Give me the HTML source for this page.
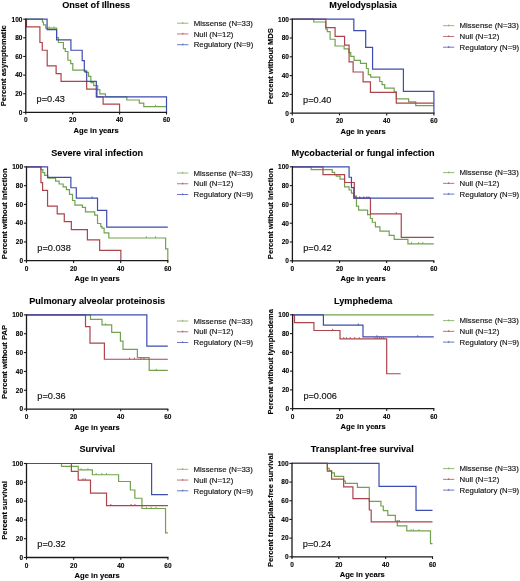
<!DOCTYPE html>
<html><head><meta charset="utf-8"><style>
html,body{margin:0;padding:0;background:#fff;}
svg{display:block;will-change:transform;}
text{font-family:"Liberation Sans",sans-serif;}
.c{fill:none;stroke-width:1.2;}
.ax{fill:none;stroke:#1a1a1a;stroke-width:1.3;}
.tk{fill:none;stroke:#1a1a1a;stroke-width:1.1;}
.tl{font-size:7.4px;font-weight:bold;fill:#000;stroke:#000;stroke-width:.12px;}
.ti{font-size:9.15px;font-weight:bold;fill:#000;stroke:#000;stroke-width:.1px;}
.xl{font-size:7.6px;font-weight:bold;fill:#000;stroke:#000;stroke-width:.12px;}
.yl{font-size:7.6px;font-weight:bold;fill:#000;stroke:#000;stroke-width:.12px;}
.pv{font-size:9.2px;fill:#111;stroke:#111;stroke-width:.15px;}
.ck{fill:none;stroke-width:.9;}
.lg{fill:none;stroke-width:1;opacity:.75;}
.lt{font-size:7.8px;fill:#111;stroke:#111;stroke-width:.15px;}
</style></head><body>
<svg width="520" height="581" viewBox="0 0 520 581">
<path d="M25.8 19.2H42.48V22H43.42V24.89H45.78V28.06H56.59V37.58H58.47V42.52H63.4V48.68H65.28V51.48H67.86V60.25H70.69V63.7H72.8V70.05H85.02V72.38H88.55V76.3H90.89V82.64H93.72V85.63H97.71V89.64H99.83V93.84H105.47V96.92H126.85V100H139.31V103.08H143.77V106.53H166.5" stroke="#72a24e" class="c"/>
<path d="M25.8 19.2H26.5V26.94H39.9V42.52H42.25V50.27H47.19V65.85H56.12V73.59H61.05V81.43H86.67V89.17H97V96.92H103.11V104.2H119.56V112.4H119.56" stroke="#ac444c" class="c"/>
<path d="M25.8 19.2H47.09V29.56H56.59V39.91H70.92V50.27H82.2V60.63H84.31V71.07H86.67V81.43H96.3V96.92H166.5V112.4H166.5" stroke="#3c4cb0" class="c"/>
<path d="M49.3 26.36V28.06M54 26.36V28.06" stroke="#72a24e" class="ck"/>
<path d="M155.52 104.83V106.53" stroke="#72a24e" class="ck"/>
<path d="M25.8 18.6V112.4H167.1" class="ax"/>
<path d="M23.2 112.4H25.8" class="tk"/>
<text transform="translate(22.4 114.7) scale(.88 1)" class="tl" text-anchor="end">0</text>
<path d="M23.2 93.76H25.8" class="tk"/>
<text transform="translate(22.4 96.06) scale(.88 1)" class="tl" text-anchor="end">20</text>
<path d="M23.2 75.12H25.8" class="tk"/>
<text transform="translate(22.4 77.42) scale(.88 1)" class="tl" text-anchor="end">40</text>
<path d="M23.2 56.48H25.8" class="tk"/>
<text transform="translate(22.4 58.78) scale(.88 1)" class="tl" text-anchor="end">60</text>
<path d="M23.2 37.84H25.8" class="tk"/>
<text transform="translate(22.4 40.14) scale(.88 1)" class="tl" text-anchor="end">80</text>
<path d="M23.2 19.2H25.8" class="tk"/>
<text transform="translate(22.4 21.5) scale(.88 1)" class="tl" text-anchor="end">100</text>
<path d="M25.8 112.4V114.6" class="tk"/>
<text transform="translate(25.8 122.4) scale(.88 1)" class="tl" text-anchor="middle">0</text>
<path d="M72.7 112.4V114.6" class="tk"/>
<text transform="translate(72.7 122.4) scale(.88 1)" class="tl" text-anchor="middle">20</text>
<path d="M119.6 112.4V114.6" class="tk"/>
<text transform="translate(119.6 122.4) scale(.88 1)" class="tl" text-anchor="middle">40</text>
<path d="M166.5 112.4V114.6" class="tk"/>
<text transform="translate(166.5 122.4) scale(.88 1)" class="tl" text-anchor="middle">60</text>
<text x="96.15" y="7.9" class="ti" text-anchor="middle">Onset of Illness</text>
<text x="96.15" y="133" class="xl" text-anchor="middle">Age in years</text>
<text transform="translate(6.4 65.8) rotate(-90)" class="yl" text-anchor="middle">Percent asymptomatic</text>
<text x="36.6" y="102.3" class="pv">p=0.43</text>
<path d="M177.1 23.2H188.4M182.8 22V23.8" stroke="#72a24e" class="lg"/>
<text x="193.7" y="25.9" class="lt">Missense (N=33)</text>
<path d="M177.1 33.95H188.4M182.8 32.75V34.55" stroke="#ac444c" class="lg"/>
<text x="193.7" y="36.65" class="lt">Null (N=12)</text>
<path d="M177.1 44.7H188.4M182.8 43.5V45.3" stroke="#3c4cb0" class="lg"/>
<text x="193.7" y="47.4" class="lt">Regulatory (N=9)</text>
<path d="M292.3 19.2H313.75V22.02H325.85V29.08H327.27V31.53H330.11V39.24H335.1V46.02H344.11V48.84H348.85V52.7H350.75V56.46H354.07V60.42H360.48V63.43H366.41V68.51H368.3V74.62H370.68V77.17H379.69V81.49H382.06V84.6H384.67V88.08H394.16V91.94H396.29V98.81H408.63V101.91H415.74V105.68H433.9" stroke="#72a24e" class="c"/>
<path d="M292.3 19.2H325.85V27.67H335.1V36.33H344.58V45.17H349.09V61.83H353.12V71.99H363.09V81.96H370.44V92.41H396.29V103.14H433.9" stroke="#ac444c" class="c"/>
<path d="M292.3 19.2H353.83V30.59H365.69V47.43H372.57V69.07H403.41V91.37H433.9V113.2H433.9" stroke="#3c4cb0" class="c"/>
<path d="M292.3 18.6V113.2H434.5" class="ax"/>
<path d="M289.7 113.2H292.3" class="tk"/>
<text transform="translate(288.9 115.5) scale(.88 1)" class="tl" text-anchor="end">0</text>
<path d="M289.7 94.4H292.3" class="tk"/>
<text transform="translate(288.9 96.7) scale(.88 1)" class="tl" text-anchor="end">20</text>
<path d="M289.7 75.6H292.3" class="tk"/>
<text transform="translate(288.9 77.9) scale(.88 1)" class="tl" text-anchor="end">40</text>
<path d="M289.7 56.8H292.3" class="tk"/>
<text transform="translate(288.9 59.1) scale(.88 1)" class="tl" text-anchor="end">60</text>
<path d="M289.7 38H292.3" class="tk"/>
<text transform="translate(288.9 40.3) scale(.88 1)" class="tl" text-anchor="end">80</text>
<path d="M289.7 19.2H292.3" class="tk"/>
<text transform="translate(288.9 21.5) scale(.88 1)" class="tl" text-anchor="end">100</text>
<path d="M292.3 113.2V115.4" class="tk"/>
<text transform="translate(292.3 123.2) scale(.88 1)" class="tl" text-anchor="middle">0</text>
<path d="M339.5 113.2V115.4" class="tk"/>
<text transform="translate(339.5 123.2) scale(.88 1)" class="tl" text-anchor="middle">20</text>
<path d="M386.7 113.2V115.4" class="tk"/>
<text transform="translate(386.7 123.2) scale(.88 1)" class="tl" text-anchor="middle">40</text>
<path d="M433.9 113.2V115.4" class="tk"/>
<text transform="translate(433.9 123.2) scale(.88 1)" class="tl" text-anchor="middle">60</text>
<text x="363.1" y="7.9" class="ti" text-anchor="middle">Myelodysplasia</text>
<text x="363.1" y="133.8" class="xl" text-anchor="middle">Age in years</text>
<text transform="translate(272.9 66.2) rotate(-90)" class="yl" text-anchor="middle">Percent without MDS</text>
<text x="303.1" y="103.1" class="pv">p=0.40</text>
<path d="M443 25.7H454.3M448.7 24.5V26.3" stroke="#72a24e" class="lg"/>
<text x="459.6" y="28.4" class="lt">Missense (N=33)</text>
<path d="M443 36.45H454.3M448.7 35.25V37.05" stroke="#ac444c" class="lg"/>
<text x="459.6" y="39.15" class="lt">Null (N=12)</text>
<path d="M443 47.2H454.3M448.7 46V47.8" stroke="#3c4cb0" class="lg"/>
<text x="459.6" y="49.9" class="lt">Regulatory (N=9)</text>
<path d="M26.5 166.9H40.95V169.72H42.83V172.63H44.72V175.44H47.78V178.26H55.56V181.17H59.1V183.99H63.1V186.81H66.4V189.62H69.47V194.32H72.53V200.52H74.89V205.12H82.43V207.37H85.5V211.97H94.69V215.07H97.52V223.52H100.82V226.62H102V228.22H104.12V232.91H108.83V237.98H165.63V248.87H167.8V260.7H167.8" stroke="#72a24e" class="c"/>
<path d="M26.5 166.9H40.95V182.58H42.6V190.38H47.55V206.06H57.21V213.85H64.28V221.64H71.35V229.53H87.38V239.95H99.64V250.38H120.85V260.7H120.85" stroke="#ac444c" class="c"/>
<path d="M26.5 166.9H47.55V177.32H70.88V187.75H76.3V198.17H97.52V210.47H106.71V227.18H167.8" stroke="#3c4cb0" class="c"/>
<path d="M92.1 196.47V198.17" stroke="#3c4cb0" class="ck"/>
<path d="M146.31 236.28V237.98M155.5 236.28V237.98" stroke="#72a24e" class="ck"/>
<path d="M26.5 166.3V260.7H168.4" class="ax"/>
<path d="M23.9 260.7H26.5" class="tk"/>
<text transform="translate(23.1 263) scale(.88 1)" class="tl" text-anchor="end">0</text>
<path d="M23.9 241.94H26.5" class="tk"/>
<text transform="translate(23.1 244.24) scale(.88 1)" class="tl" text-anchor="end">20</text>
<path d="M23.9 223.18H26.5" class="tk"/>
<text transform="translate(23.1 225.48) scale(.88 1)" class="tl" text-anchor="end">40</text>
<path d="M23.9 204.42H26.5" class="tk"/>
<text transform="translate(23.1 206.72) scale(.88 1)" class="tl" text-anchor="end">60</text>
<path d="M23.9 185.66H26.5" class="tk"/>
<text transform="translate(23.1 187.96) scale(.88 1)" class="tl" text-anchor="end">80</text>
<path d="M23.9 166.9H26.5" class="tk"/>
<text transform="translate(23.1 169.2) scale(.88 1)" class="tl" text-anchor="end">100</text>
<path d="M26.5 260.7V262.9" class="tk"/>
<text transform="translate(26.5 270.7) scale(.88 1)" class="tl" text-anchor="middle">0</text>
<path d="M73.6 260.7V262.9" class="tk"/>
<text transform="translate(73.6 270.7) scale(.88 1)" class="tl" text-anchor="middle">20</text>
<path d="M120.7 260.7V262.9" class="tk"/>
<text transform="translate(120.7 270.7) scale(.88 1)" class="tl" text-anchor="middle">40</text>
<path d="M167.8 260.7V262.9" class="tk"/>
<text transform="translate(167.8 270.7) scale(.88 1)" class="tl" text-anchor="middle">60</text>
<text x="97.15" y="155.6" class="ti" text-anchor="middle">Severe viral infection</text>
<text x="97.15" y="281.3" class="xl" text-anchor="middle">Age in years</text>
<text transform="translate(7.1 213.8) rotate(-90)" class="yl" text-anchor="middle">Percent without infection</text>
<text x="37.3" y="250.6" class="pv">p=0.038</text>
<path d="M177 173H188.3M182.7 171.8V173.6" stroke="#72a24e" class="lg"/>
<text x="193.6" y="175.7" class="lt">Missense (N=33)</text>
<path d="M177 183.75H188.3M182.7 182.55V184.35" stroke="#ac444c" class="lg"/>
<text x="193.6" y="186.45" class="lt">Null (N=12)</text>
<path d="M177 194.5H188.3M182.7 193.3V195.1" stroke="#3c4cb0" class="lg"/>
<text x="193.6" y="197.2" class="lt">Regulatory (N=9)</text>
<path d="M292.4 166.8H311.14V169.62H332.25V172.35H334.62V174.6H336.28V176.2H340.08V179.21H344.58V186.92H349.09V190.02H351.46V193.12H353.83V196.22H356.44V206.19H358.58V210.04H367.59V214.65H370.44V218.5H372.34V222.26H375.42V226.87H379.93V231.19H389.18V235.42H394.16V239.46H407.92V243.79H433.8" stroke="#72a24e" class="c"/>
<path d="M292.4 166.8H323V174.6H344.58V182.5H354.31V198.1H370.44V213.8H401.27V237.3H433.8" stroke="#ac444c" class="c"/>
<path d="M292.4 166.8H349.09V177.23H351.46V187.67H353.83V198.1H433.8" stroke="#3c4cb0" class="c"/>
<path d="M355.73 196.4V198.1M359.76 196.4V198.1M363.8 196.4V198.1M366.88 196.4V198.1M369.02 196.4V198.1" stroke="#3c4cb0" class="ck"/>
<path d="M411.47 242.09V243.79M418.59 242.09V243.79M422.86 242.09V243.79" stroke="#72a24e" class="ck"/>
<path d="M396.29 212.1V213.8" stroke="#ac444c" class="ck"/>
<path d="M292.4 166.2V260.8H434.4" class="ax"/>
<path d="M289.8 260.8H292.4" class="tk"/>
<text transform="translate(289 263.1) scale(.88 1)" class="tl" text-anchor="end">0</text>
<path d="M289.8 242H292.4" class="tk"/>
<text transform="translate(289 244.3) scale(.88 1)" class="tl" text-anchor="end">20</text>
<path d="M289.8 223.2H292.4" class="tk"/>
<text transform="translate(289 225.5) scale(.88 1)" class="tl" text-anchor="end">40</text>
<path d="M289.8 204.4H292.4" class="tk"/>
<text transform="translate(289 206.7) scale(.88 1)" class="tl" text-anchor="end">60</text>
<path d="M289.8 185.6H292.4" class="tk"/>
<text transform="translate(289 187.9) scale(.88 1)" class="tl" text-anchor="end">80</text>
<path d="M289.8 166.8H292.4" class="tk"/>
<text transform="translate(289 169.1) scale(.88 1)" class="tl" text-anchor="end">100</text>
<path d="M292.4 260.8V263" class="tk"/>
<text transform="translate(292.4 270.8) scale(.88 1)" class="tl" text-anchor="middle">0</text>
<path d="M339.53 260.8V263" class="tk"/>
<text transform="translate(339.53 270.8) scale(.88 1)" class="tl" text-anchor="middle">20</text>
<path d="M386.67 260.8V263" class="tk"/>
<text transform="translate(386.67 270.8) scale(.88 1)" class="tl" text-anchor="middle">40</text>
<path d="M433.8 260.8V263" class="tk"/>
<text transform="translate(433.8 270.8) scale(.88 1)" class="tl" text-anchor="middle">60</text>
<text x="363.1" y="155.5" class="ti" text-anchor="middle">Mycobacterial or fungal infection</text>
<text x="363.1" y="281.4" class="xl" text-anchor="middle">Age in years</text>
<text transform="translate(273 213.8) rotate(-90)" class="yl" text-anchor="middle">Percent without infection</text>
<text x="303.2" y="250.7" class="pv">p=0.42</text>
<path d="M443 172.6H454.3M448.7 171.4V173.2" stroke="#72a24e" class="lg"/>
<text x="459.6" y="175.3" class="lt">Missense (N=33)</text>
<path d="M443 183.35H454.3M448.7 182.15V183.95" stroke="#ac444c" class="lg"/>
<text x="459.6" y="186.05" class="lt">Null (N=12)</text>
<path d="M443 194.1H454.3M448.7 192.9V194.7" stroke="#3c4cb0" class="lg"/>
<text x="459.6" y="196.8" class="lt">Regulatory (N=9)</text>
<path d="M26.5 314.9H90.47V319.41H102.03V324.96H111.7V332.29H120.42V341.13H123.01V349.3H137.4V357.58H149.19V370.45H167.8" stroke="#72a24e" class="c"/>
<path d="M26.5 314.9H85.52V326.65H90V343.1H104.39V359.27H167.8" stroke="#ac444c" class="c"/>
<path d="M26.5 314.9H146.83V346.2H167.8" stroke="#3c4cb0" class="c"/>
<path d="M129.62 357.57V359.27M134.33 357.57V359.27M140.93 357.57V359.27M144 357.57V359.27" stroke="#ac444c" class="ck"/>
<path d="M156.26 368.75V370.45" stroke="#72a24e" class="ck"/>
<path d="M105.56 323.26V324.96" stroke="#72a24e" class="ck"/>
<path d="M26.5 314.3V409.1H168.4" class="ax"/>
<path d="M23.9 409.1H26.5" class="tk"/>
<text transform="translate(23.1 411.4) scale(.88 1)" class="tl" text-anchor="end">0</text>
<path d="M23.9 390.26H26.5" class="tk"/>
<text transform="translate(23.1 392.56) scale(.88 1)" class="tl" text-anchor="end">20</text>
<path d="M23.9 371.42H26.5" class="tk"/>
<text transform="translate(23.1 373.72) scale(.88 1)" class="tl" text-anchor="end">40</text>
<path d="M23.9 352.58H26.5" class="tk"/>
<text transform="translate(23.1 354.88) scale(.88 1)" class="tl" text-anchor="end">60</text>
<path d="M23.9 333.74H26.5" class="tk"/>
<text transform="translate(23.1 336.04) scale(.88 1)" class="tl" text-anchor="end">80</text>
<path d="M23.9 314.9H26.5" class="tk"/>
<text transform="translate(23.1 317.2) scale(.88 1)" class="tl" text-anchor="end">100</text>
<path d="M26.5 409.1V411.3" class="tk"/>
<text transform="translate(26.5 419.1) scale(.88 1)" class="tl" text-anchor="middle">0</text>
<path d="M73.6 409.1V411.3" class="tk"/>
<text transform="translate(73.6 419.1) scale(.88 1)" class="tl" text-anchor="middle">20</text>
<path d="M120.7 409.1V411.3" class="tk"/>
<text transform="translate(120.7 419.1) scale(.88 1)" class="tl" text-anchor="middle">40</text>
<path d="M167.8 409.1V411.3" class="tk"/>
<text transform="translate(167.8 419.1) scale(.88 1)" class="tl" text-anchor="middle">60</text>
<text x="97.15" y="303.6" class="ti" text-anchor="middle">Pulmonary alveolar proteinosis</text>
<text x="97.15" y="429.7" class="xl" text-anchor="middle">Age in years</text>
<text transform="translate(7.1 362) rotate(-90)" class="yl" text-anchor="middle">Percent without PAP</text>
<text x="37.3" y="399" class="pv">p=0.36</text>
<path d="M177 321H188.3M182.7 319.8V321.6" stroke="#72a24e" class="lg"/>
<text x="193.6" y="323.7" class="lt">Missense (N=33)</text>
<path d="M177 331.75H188.3M182.7 330.55V332.35" stroke="#ac444c" class="lg"/>
<text x="193.6" y="334.45" class="lt">Null (N=12)</text>
<path d="M177 342.5H188.3M182.7 341.3V343.1" stroke="#3c4cb0" class="lg"/>
<text x="193.6" y="345.2" class="lt">Regulatory (N=9)</text>
<path d="M292.6 314.8H433.8" stroke="#72a24e" class="c"/>
<path d="M292.6 314.8H294.5V322.59H313.93V330.48H340V338.84H386.69V373.77H400.67" stroke="#ac444c" class="c"/>
<path d="M292.6 314.8H323.41V325.22H362.99V336.96H433.8" stroke="#3c4cb0" class="c"/>
<path d="M332.65 328.78V330.48" stroke="#ac444c" class="ck"/>
<path d="M343.79 337.14V338.84M346.64 337.14V338.84M350.19 337.14V338.84M354.69 337.14V338.84M359.2 337.14V338.84M374.84 337.14V338.84M377.21 337.14V338.84M379.58 337.14V338.84M381.48 337.14V338.84M383.61 337.14V338.84" stroke="#ac444c" class="ck"/>
<path d="M376.97 335.26V336.96M417.74 335.26V336.96" stroke="#3c4cb0" class="ck"/>
<path d="M358.25 323.52V325.22" stroke="#3c4cb0" class="ck"/>
<path d="M292.6 314.2V408.7H434.4" class="ax"/>
<path d="M290 408.7H292.6" class="tk"/>
<text transform="translate(289.2 411) scale(.88 1)" class="tl" text-anchor="end">0</text>
<path d="M290 389.92H292.6" class="tk"/>
<text transform="translate(289.2 392.22) scale(.88 1)" class="tl" text-anchor="end">20</text>
<path d="M290 371.14H292.6" class="tk"/>
<text transform="translate(289.2 373.44) scale(.88 1)" class="tl" text-anchor="end">40</text>
<path d="M290 352.36H292.6" class="tk"/>
<text transform="translate(289.2 354.66) scale(.88 1)" class="tl" text-anchor="end">60</text>
<path d="M290 333.58H292.6" class="tk"/>
<text transform="translate(289.2 335.88) scale(.88 1)" class="tl" text-anchor="end">80</text>
<path d="M290 314.8H292.6" class="tk"/>
<text transform="translate(289.2 317.1) scale(.88 1)" class="tl" text-anchor="end">100</text>
<path d="M292.6 408.7V410.9" class="tk"/>
<text transform="translate(292.6 418.7) scale(.88 1)" class="tl" text-anchor="middle">0</text>
<path d="M339.67 408.7V410.9" class="tk"/>
<text transform="translate(339.67 418.7) scale(.88 1)" class="tl" text-anchor="middle">20</text>
<path d="M386.73 408.7V410.9" class="tk"/>
<text transform="translate(386.73 418.7) scale(.88 1)" class="tl" text-anchor="middle">40</text>
<path d="M433.8 408.7V410.9" class="tk"/>
<text transform="translate(433.8 418.7) scale(.88 1)" class="tl" text-anchor="middle">60</text>
<text x="363.2" y="303.5" class="ti" text-anchor="middle">Lymphedema</text>
<text x="363.2" y="429.3" class="xl" text-anchor="middle">Age in years</text>
<text transform="translate(273.2 361.75) rotate(-90)" class="yl" text-anchor="middle">Percent without lymphedema</text>
<text x="303.4" y="398.6" class="pv">p=0.006</text>
<path d="M443 320.6H454.3M448.7 319.4V321.2" stroke="#72a24e" class="lg"/>
<text x="459.6" y="323.3" class="lt">Missense (N=33)</text>
<path d="M443 331.35H454.3M448.7 330.15V331.95" stroke="#ac444c" class="lg"/>
<text x="459.6" y="334.05" class="lt">Null (N=12)</text>
<path d="M443 342.1H454.3M448.7 340.9V342.7" stroke="#3c4cb0" class="lg"/>
<text x="459.6" y="344.8" class="lt">Regulatory (N=9)</text>
<path d="M26.5 463.5H61.46V466.31H78.22V469.97H92.38V474.74H118.58V481.49H130.38V490.02H134.86V498.26H141.94V508.48H165.54V532.93H167.9" stroke="#72a24e" class="c"/>
<path d="M26.5 463.5H71.38V471.46H78.22V480.08H90.49V493.11H106.54V505.67H167.9" stroke="#ac444c" class="c"/>
<path d="M26.5 463.5H151.62V494.7H167.9" stroke="#3c4cb0" class="c"/>
<path d="M81.05 468.27V469.97M87.9 468.27V469.97" stroke="#72a24e" class="ck"/>
<path d="M96.16 473.04V474.74M101.82 473.04V474.74M106.54 473.04V474.74" stroke="#72a24e" class="ck"/>
<path d="M82.94 478.38V480.08M85.3 478.38V480.08" stroke="#ac444c" class="ck"/>
<path d="M110.79 503.97V505.67M131.08 503.97V505.67M134.86 503.97V505.67" stroke="#ac444c" class="ck"/>
<path d="M146.42 506.78V508.48M151.14 506.78V508.48M156.1 506.78V508.48" stroke="#72a24e" class="ck"/>
<path d="M26.5 462.9V557.5H168.5" class="ax"/>
<path d="M23.9 557.5H26.5" class="tk"/>
<text transform="translate(23.1 559.8) scale(.88 1)" class="tl" text-anchor="end">0</text>
<path d="M23.9 538.7H26.5" class="tk"/>
<text transform="translate(23.1 541) scale(.88 1)" class="tl" text-anchor="end">20</text>
<path d="M23.9 519.9H26.5" class="tk"/>
<text transform="translate(23.1 522.2) scale(.88 1)" class="tl" text-anchor="end">40</text>
<path d="M23.9 501.1H26.5" class="tk"/>
<text transform="translate(23.1 503.4) scale(.88 1)" class="tl" text-anchor="end">60</text>
<path d="M23.9 482.3H26.5" class="tk"/>
<text transform="translate(23.1 484.6) scale(.88 1)" class="tl" text-anchor="end">80</text>
<path d="M23.9 463.5H26.5" class="tk"/>
<text transform="translate(23.1 465.8) scale(.88 1)" class="tl" text-anchor="end">100</text>
<path d="M26.5 557.5V559.7" class="tk"/>
<text transform="translate(26.5 567.5) scale(.88 1)" class="tl" text-anchor="middle">0</text>
<path d="M73.63 557.5V559.7" class="tk"/>
<text transform="translate(73.63 567.5) scale(.88 1)" class="tl" text-anchor="middle">20</text>
<path d="M120.77 557.5V559.7" class="tk"/>
<text transform="translate(120.77 567.5) scale(.88 1)" class="tl" text-anchor="middle">40</text>
<path d="M167.9 557.5V559.7" class="tk"/>
<text transform="translate(167.9 567.5) scale(.88 1)" class="tl" text-anchor="middle">60</text>
<text x="97.2" y="452.2" class="ti" text-anchor="middle">Survival</text>
<text x="97.2" y="578.1" class="xl" text-anchor="middle">Age in years</text>
<text transform="translate(7.1 510.5) rotate(-90)" class="yl" text-anchor="middle">Percent survival</text>
<text x="37.3" y="547.4" class="pv">p=0.32</text>
<path d="M177 469.3H188.3M182.7 468.1V469.9" stroke="#72a24e" class="lg"/>
<text x="193.6" y="472" class="lt">Missense (N=33)</text>
<path d="M177 480.05H188.3M182.7 478.85V480.65" stroke="#ac444c" class="lg"/>
<text x="193.6" y="482.75" class="lt">Null (N=12)</text>
<path d="M177 490.8H188.3M182.7 489.6V491.4" stroke="#3c4cb0" class="lg"/>
<text x="193.6" y="493.5" class="lt">Regulatory (N=9)</text>
<path d="M292 463.4H327.31V468.29H329.2V470.64H331.58V472.89H334.42V476.28H343.67V480.98H345.33V483.33H357.43V487.28H369.29V501.47H380.91V505.98H383.28V510.59H387.79V515.29H395.38V521.21H397.28V525.82H406.77V530.89H430.49V543.58H432.5" stroke="#72a24e" class="c"/>
<path d="M292 463.4H327.31V471.2H331.58V479.1H343.67V486.9H352.92V498.65H369.29V510.02H371.19V521.87H432.5" stroke="#ac444c" class="c"/>
<path d="M292 463.4H379.02V486.34H416.02V510.31H432.5" stroke="#3c4cb0" class="c"/>
<path d="M411.04 529.19V530.89M413.41 529.19V530.89M418.86 529.19V530.89" stroke="#72a24e" class="ck"/>
<path d="M397.99 520.17V521.87M399.41 520.17V521.87" stroke="#ac444c" class="ck"/>
<path d="M292 462.8V556.8H433.1" class="ax"/>
<path d="M289.4 556.8H292" class="tk"/>
<text transform="translate(288.6 559.1) scale(.88 1)" class="tl" text-anchor="end">0</text>
<path d="M289.4 538.12H292" class="tk"/>
<text transform="translate(288.6 540.42) scale(.88 1)" class="tl" text-anchor="end">20</text>
<path d="M289.4 519.44H292" class="tk"/>
<text transform="translate(288.6 521.74) scale(.88 1)" class="tl" text-anchor="end">40</text>
<path d="M289.4 500.76H292" class="tk"/>
<text transform="translate(288.6 503.06) scale(.88 1)" class="tl" text-anchor="end">60</text>
<path d="M289.4 482.08H292" class="tk"/>
<text transform="translate(288.6 484.38) scale(.88 1)" class="tl" text-anchor="end">80</text>
<path d="M289.4 463.4H292" class="tk"/>
<text transform="translate(288.6 465.7) scale(.88 1)" class="tl" text-anchor="end">100</text>
<path d="M292 556.8V559" class="tk"/>
<text transform="translate(292 566.8) scale(.88 1)" class="tl" text-anchor="middle">0</text>
<path d="M338.83 556.8V559" class="tk"/>
<text transform="translate(338.83 566.8) scale(.88 1)" class="tl" text-anchor="middle">20</text>
<path d="M385.67 556.8V559" class="tk"/>
<text transform="translate(385.67 566.8) scale(.88 1)" class="tl" text-anchor="middle">40</text>
<path d="M432.5 556.8V559" class="tk"/>
<text transform="translate(432.5 566.8) scale(.88 1)" class="tl" text-anchor="middle">60</text>
<text x="362.25" y="452.1" class="ti" text-anchor="middle">Transplant-free survival</text>
<text x="362.25" y="577.4" class="xl" text-anchor="middle">Age in years</text>
<text transform="translate(272.6 510.1) rotate(-90)" class="yl" text-anchor="middle">Percent transplant-free survival</text>
<text x="302.8" y="546.7" class="pv">p=0.24</text>
<path d="M443 468.6H454.3M448.7 467.4V469.2" stroke="#72a24e" class="lg"/>
<text x="459.6" y="471.3" class="lt">Missense (N=33)</text>
<path d="M443 479.35H454.3M448.7 478.15V479.95" stroke="#ac444c" class="lg"/>
<text x="459.6" y="482.05" class="lt">Null (N=12)</text>
<path d="M443 490.1H454.3M448.7 488.9V490.7" stroke="#3c4cb0" class="lg"/>
<text x="459.6" y="492.8" class="lt">Regulatory (N=9)</text>
</svg>
</body></html>
